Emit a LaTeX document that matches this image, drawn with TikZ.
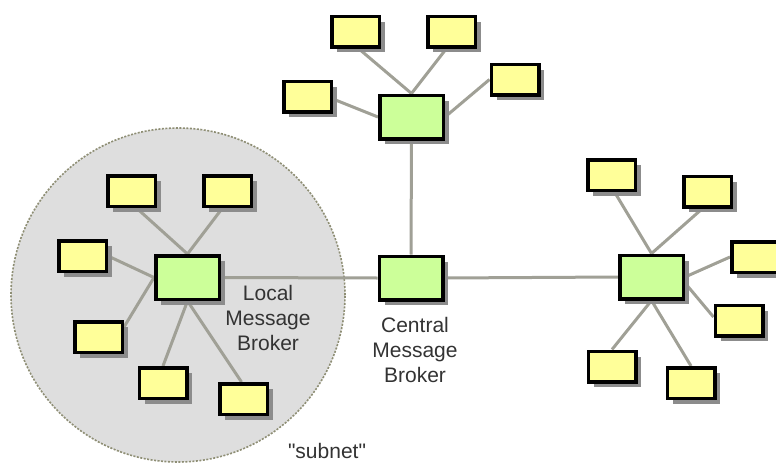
\documentclass[tikz,border=0pt]{standalone}
\usepackage{fontspec}
\setmainfont{Liberation Sans}[Ligatures=TeXOff]
\usetikzlibrary{shadows,backgrounds}
\definecolor{ybox}{HTML}{FFFF99}
\definecolor{gbox}{HTML}{CCFF99}
\definecolor{netfill}{HTML}{DEDEDE}
\definecolor{netedge}{HTML}{8E8E74}
\definecolor{wire}{HTML}{A0A096}
\definecolor{txt}{HTML}{333333}
\begin{document}
\begin{tikzpicture}[x=1pt,y=-1pt,
  shad/.style={drop shadow={shadow xshift=5.5pt,shadow yshift=-5.5pt,fill=black!45,opacity=1}},
  client/.style={draw=black,line width=3.5pt,fill=ybox,minimum width=47.5pt,minimum height=30.5pt,inner sep=0pt,shad},
  broker/.style={draw=black,line width=3.5pt,fill=gbox,minimum width=63.5pt,minimum height=43.5pt,inner sep=0pt,shad},
  wireline/.style={draw=wire,line width=3pt},
  lbl/.style={text=txt,font=\fontsize{21}{25}\selectfont,align=center,inner sep=0pt}]
\useasboundingbox (0,0) rectangle (776,463);
% brokers
\node[broker] (lb) at (187.5,277.5) {};
\node[broker] (cg) at (411,278) {};
\node[broker] (tg) at (411.5,117) {};
\node[broker] (rg) at (651.5,277) {};
% left clients
\node[client] (ltl) at (131.5,191) {};
\node[client] (ltr) at (227.5,191) {};
\node[client] (ll) at (82.5,256) {};
\node[client] (lll) at (98.5,337) {};
\node[client] (lb1) at (163,383) {};
\node[client] (lb2) at (243.5,399) {};
% top clients
\node[client] (ttl) at (355.5,31.5) {};
\node[client] (ttr) at (451.5,31.5) {};
\node[client] (tl) at (307.5,96.5) {};
\node[client] (tr) at (515,79.5) {};
% right clients
\node[client] (rtl) at (611.5,175) {};
\node[client] (rtr) at (707.5,191.5) {};
\node[client] (rr) at (755.5,257) {};
\node[client] (rlr) at (739,320.5) {};
\node[client] (rbl) at (612,366.5) {};
\node[client] (rb) at (691,383) {};
% labels
\node[lbl] (ltext) at (268,318) {Local\\Message\\Broker};
\node[lbl] (ctext) at (415,350) {Central\\Message\\Broker};
\node[lbl] (stext) at (327,451) {"subnet"};
\begin{scope}[on background layer]
  \node[circle,fill=netfill,draw=netedge,line width=1.6pt,dash pattern=on 2pt off 1.5pt,minimum size=334pt,inner sep=0pt] (net) at (178,295) {};
  \draw[wireline] ([xshift=5pt]ltl.south) -- (lb.north);
  \draw[wireline] ([xshift=-5pt]ltr.south) -- (lb.north);
  \draw[wireline] (ll.east) -- (lb.west);
  \draw[wireline] ([yshift=10pt]lll.east) -- (lb.west);
  \draw[wireline] (lb1.north) -- (lb.south);
  \draw[wireline] ([xshift=-2pt]lb2.north) -- (lb.south);
  \draw[wireline] ([xshift=3pt]ttl.south) -- (tg.north);
  \draw[wireline] ([xshift=-5pt]ttr.south) -- (tg.north);
  \draw[wireline] ([yshift=-2.5pt]tl.east) -- (tg.west);
  \draw[wireline] (tr.west) -- (tg.east);
  \draw[wireline] (tg.south) -- (cg.north);
  \draw[wireline] ([xshift=3pt]rtl.south) -- (rg.north);
  \draw[wireline] ([xshift=-5pt]rtr.south) -- (rg.north);
  \draw[wireline] (rr.west) -- (rg.east);
  \draw[wireline] ([yshift=3.5pt]rlr.west) -- ([yshift=-6pt]rg.east);
  \draw[wireline] (rbl.north) -- (rg.south);
  \draw[wireline] (rb.north) -- (rg.south);
  \draw[wireline] (lb.east) -- (cg.west);
  \draw[wireline] (cg.east) -- (rg.west);
\end{scope}
\end{tikzpicture}
\end{document}
